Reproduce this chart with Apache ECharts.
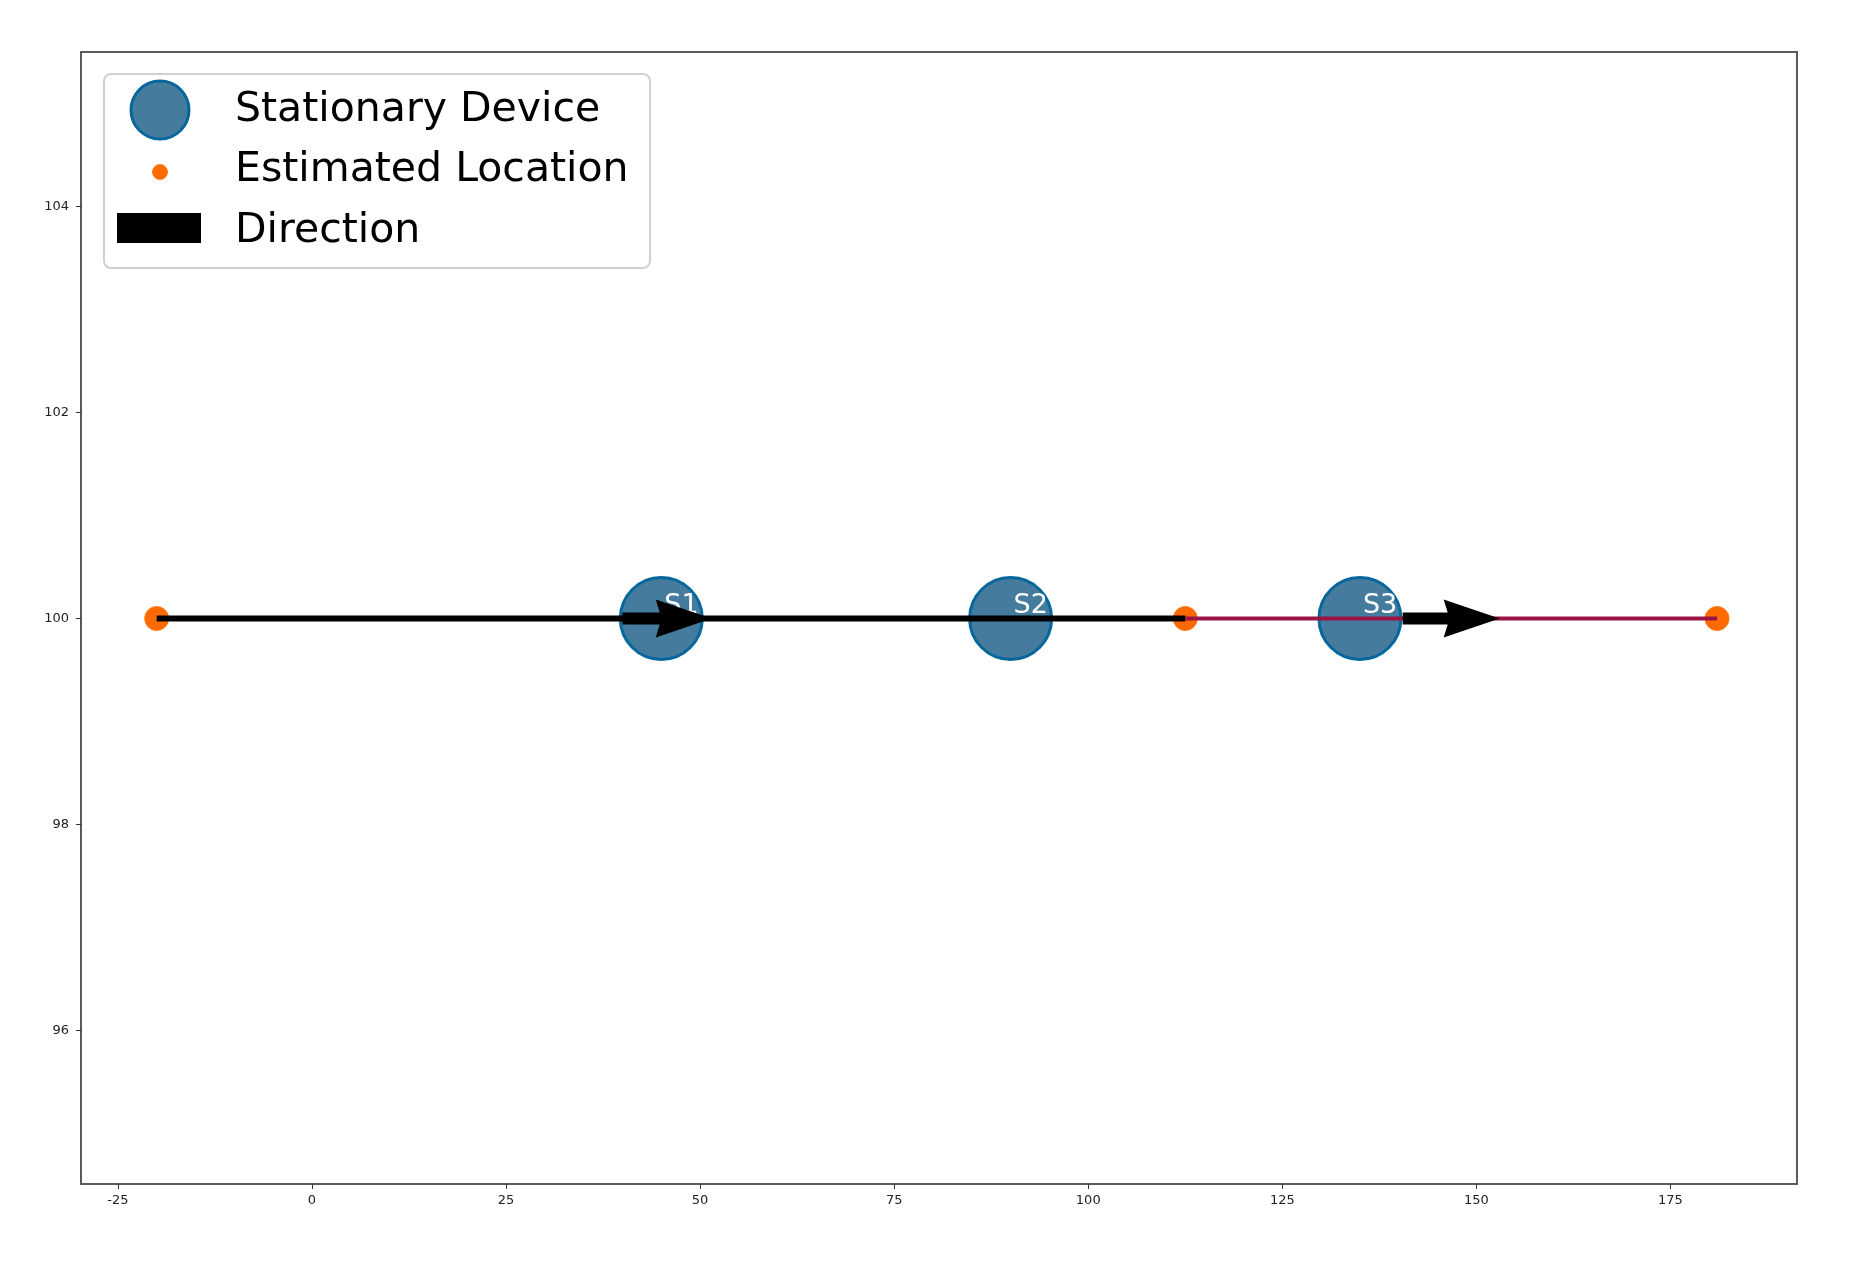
<!DOCTYPE html>
<html>
<head>
<meta charset="utf-8">
<script src="https://cdn.jsdelivr.net/npm/echarts@6/dist/echarts.min.js"></script>
<style>html,body{margin:0;padding:0;background:#fff}#c{width:1866px;height:1266px}</style>
</head>
<body>
<div id="c"></div>
<script>
// ---- data ----
var stationNames = ['S1', 'S2', 'S3'];
var stationX = [45, 90, 135];
var stationY = [100, 100, 100];
var estimatedX = [-20, 112.5, 181];
var estimatedY = [100, 100, 100];
var pathBlackX = [-20, 112.5];
var pathRedX = [112.5, 181];
var pathY = 100;
var arrowStartX = [40, 140.5];
var arrowEndX = [51.5, 153];
var arrowY = [100, 100];
var xTicks = [-25, 0, 25, 50, 75, 100, 125, 150, 175];
var yTicks = [96, 98, 100, 102, 104];
var legendLabels = ['Stationary Device', 'Estimated Location', 'Direction'];

var chart = echarts.init(document.getElementById('c'), null, {renderer: 'canvas'});

var stationData = stationX.map(function (x, i) { return [x, stationY[i], stationNames[i]]; });
var estData = estimatedX.map(function (x, i) { return [x, estimatedY[i]]; });
var arrowData = arrowStartX.map(function (x, i) { return [x, arrowEndX[i], arrowY[i]]; });

var FONT = 'DejaVu Sans';

var option = {
  backgroundColor: '#ffffff',
  animation: false,
  grid: {left: 81, right: 69, top: 52, bottom: 82, show: true, borderColor: '#5a5a5a', borderWidth: 2},
  xAxis: {
    type: 'value', min: -29.75, max: 191.3,
    axisLine: {show: true, onZero: false, lineStyle: {color: '#5a5a5a', width: 2}},
    axisTick: {show: true, length: 5, customValues: xTicks, lineStyle: {color: '#333'}},
    axisLabel: {customValues: xTicks, color: '#222', fontSize: 13, fontFamily: FONT, margin: 10},
    splitLine: {show: false}
  },
  yAxis: {
    type: 'value', min: 94.51, max: 105.5,
    axisLine: {show: true, onZero: false, lineStyle: {color: '#5a5a5a', width: 2}},
    axisTick: {show: true, length: 5, customValues: yTicks, lineStyle: {color: '#333'}},
    axisLabel: {customValues: yTicks, color: '#222', fontSize: 13, fontFamily: FONT, margin: 12},
    splitLine: {show: false}
  },
  series: [
    {
      name: 'Stationary Device', type: 'scatter', z: 2,
      data: stationData, symbolSize: 82,
      itemStyle: {color: '#457b9d', borderColor: '#06679c', borderWidth: 3, opacity: 1},
      label: {show: false}
    },
    {
      name: 'Estimated Location', type: 'scatter', z: 3,
      data: estData, symbolSize: 24,
      itemStyle: {color: '#ff6a00', borderColor: '#ff7a10', borderWidth: 1, opacity: 1}
    },
    {
      name: 'path1', type: 'line', z: 4, symbol: 'none',
      data: pathBlackX.map(function (x) { return [x, pathY]; }),
      lineStyle: {color: '#000000', width: 6}
    },
    {
      name: 'path2', type: 'line', z: 4, symbol: 'none',
      data: pathRedX.map(function (x) { return [x, pathY]; }),
      lineStyle: {color: '#9a1446', width: 4}
    },
    {
      name: 'labels', type: 'scatter', z: 5,
      data: stationData, symbolSize: 82,
      itemStyle: {color: 'rgba(0,0,0,0)', opacity: 1},
      label: {
        show: true, formatter: function (p) { return p.data[2]; },
        position: [44, 42], align: 'left', verticalAlign: 'bottom',
        color: '#ffffff', fontSize: 27, fontFamily: FONT
      }
    },
    {
      name: 'Direction', type: 'custom', z: 6,
      data: arrowData,
      renderItem: function (params, api) {
        var p0 = api.coord([api.value(0), api.value(2)]);
        var p1 = api.coord([api.value(1), api.value(2)]);
        var headLen = 52, sh = 6, hh = 19;
        var xb = p1[0] - headLen, y = p0[1];
        return {
          type: 'polygon',
          shape: {points: [[p0[0], y - sh], [xb, y - sh], [xb - 4, y - hh], [p1[0], y], [xb - 4, y + hh], [xb, y + sh], [p0[0], y + sh]]},
          style: {fill: '#000000'}
        };
      }
    }
  ],
  graphic: [
    {type: 'rect', z: 100, shape: {x: 104, y: 74, width: 546, height: 194, r: 7},
      style: {fill: 'rgba(255,255,255,0.85)', stroke: '#d0d0d0', lineWidth: 2}},
    {type: 'circle', z: 101, shape: {cx: 160, cy: 110, r: 29},
      style: {fill: '#457b9d', stroke: '#06679c', lineWidth: 3}},
    {type: 'circle', z: 101, shape: {cx: 160, cy: 172, r: 7.5},
      style: {fill: '#ff6a00', stroke: '#ff7a10', lineWidth: 1}},
    {type: 'rect', z: 101, shape: {x: 117, y: 213, width: 84, height: 30},
      style: {fill: '#000000'}},
    {type: 'text', z: 101, x: 235, y: 110, style: {text: legendLabels[0], font: '41px "DejaVu Sans"', fill: '#000', verticalAlign: 'middle'}},
    {type: 'text', z: 101, x: 235, y: 170, style: {text: legendLabels[1], font: '41px "DejaVu Sans"', fill: '#000', verticalAlign: 'middle'}},
    {type: 'text', z: 101, x: 235, y: 231, style: {text: legendLabels[2], font: '41px "DejaVu Sans"', fill: '#000', verticalAlign: 'middle'}}
  ]
};
chart.setOption(option);
</script>
</body>
</html>
